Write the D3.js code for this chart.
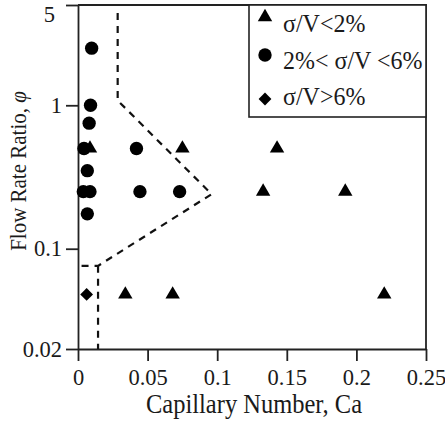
<!DOCTYPE html>
<html>
<head>
<meta charset="utf-8">
<script src="https://cdn.jsdelivr.net/npm/d3@7"></script>
<style>
  body { margin: 0; background: #fff; }
  svg text { font-family: 'Liberation Serif', Tinos, Times, 'Times New Roman', 'DejaVu Serif', serif; fill: #1a1a1a; }
</style>
</head>
<body>
<svg></svg>
<script>
const [svgWidth, svgHeight] = [445, 424];

// data: [Ca, flow rate ratio]
const lowVar = [[0.0086, 0.5], [0.075, 0.5], [0.143, 0.5], [0.133, 0.25], [0.192, 0.25],
  [0.034, 0.048], [0.068, 0.048], [0.22, 0.048]];
const midVar = [[0.0098, 2.5], [0.009, 1.0], [0.008, 0.75], [0.0043, 0.5], [0.042, 0.5],
  [0.0067, 0.35], [0.0038, 0.25], [0.0086, 0.25], [0.0445, 0.25], [0.073, 0.25], [0.0067, 0.175]];
const highVar = [[0.0062, 0.048]];
const boundary = [[0.0285, 4.4], [0.0285, 1.08], [0.096, 0.24], [0.0144, 0.076], [0, 0.076]];
const boundaryLow = [[0.0144, 0.076], [0.0144, 0.02]];
const xTicks = [0, 0.05, 0.1, 0.15, 0.2, 0.25];
const yTicks = [0.02, 0.1, 1, 5];
const legendLabels = ['σ/V<2%', '2%< σ/V <6%', 'σ/V>6%'];

const svg = d3.select('svg')
  .attr('width', svgWidth)
  .attr('height', svgHeight);

const x = d3.scaleLinear().domain([0, 0.25]).range([78, 426]);
const y = d3.scaleLog().domain([0.02, 5]).range([349, 5]);

const ink = '#222';
const serif = "'Liberation Serif', Tinos, Times, 'Times New Roman', 'DejaVu Serif', serif";

// frame (top / right)
svg.append('path')
  .attr('d', `M${x(0)},${y(5)}H${x(0.25)}V${y(0.02)}`)
  .attr('fill', 'none')
  .attr('stroke', ink)
  .attr('stroke-width', 1.8);

const xAxis = svg.append('g')
  .attr('transform', `translate(0, ${y(0.02)})`)
  .call(d3.axisBottom(x).tickValues(xTicks).tickSize(12).tickSizeOuter(0).tickPadding(8)
    .tickFormat(d => String(d)));
const yAxis = svg.append('g')
  .attr('transform', `translate(${x(0)}, 0)`)
  .call(d3.axisLeft(y).tickValues(yTicks).tickSize(12).tickSizeOuter(0).tickPadding(4)
    .tickFormat(d => String(d)));

[xAxis, yAxis].forEach(g => {
  g.attr('font-family', serif).attr('font-size', 22.5);
  g.selectAll('path, line').attr('stroke', ink).attr('stroke-width', 1.8);
  g.selectAll('text').attr('fill', '#1a1a1a');
});
// top label sits below its tick in the original
yAxis.selectAll('.tick')
  .filter(d => d === 5)
  .select('text')
  .attr('dy', '0.32em')
  .attr('y', 9)
  .attr('x', -23);

svg.append('text')
  .attr('transform', `translate(${(x(0) + x(0.25)) / 2 + 2}, 413) scale(1, 1.1)`)
  .attr('text-anchor', 'middle')
  .attr('font-family', serif)
  .attr('font-size', 24.5)
  .text('Capillary Number, Ca');

const yTitle = svg.append('text')
  .attr('transform', 'translate(26, 171) rotate(-90) scale(1, 1.08)')
  .attr('text-anchor', 'middle')
  .attr('font-family', serif)
  .attr('font-size', 21);
yTitle.append('tspan').text('Flow Rate Ratio, ');
yTitle.append('tspan').attr('font-style', 'italic').text('φ');

// boundary dashed lines
const line = d3.line().x(d => x(d[0])).y(d => y(d[1]));
[boundary, boundaryLow].forEach(b => {
  svg.append('path')
    .attr('d', line(b))
    .attr('fill', 'none')
    .attr('stroke', '#111')
    .attr('stroke-width', 2.2)
    .attr('stroke-dasharray', '7,6');
});

// markers
const shapes = [
  d3.symbol().type(d3.symbolTriangle).size(90),
  d3.symbol().type(d3.symbolCircle).size(140),
  d3.symbol().type(d3.symbolSquare).size(82)
];
const rotations = [0, 0, 45];
[lowVar, midVar, highVar].forEach((series, k) => {
  svg.append('g')
    .selectAll('path')
    .data(series)
    .enter()
    .append('path')
    .attr('d', shapes[k])
    .attr('transform', d => `translate(${x(d[0])}, ${y(d[1])}) rotate(${rotations[k]})`)
    .attr('fill', '#000');
});

// legend
const legend = svg.append('g');
legend.append('rect')
  .attr('x', 249)
  .attr('y', y(5))
  .attr('width', x(0.25) - 249)
  .attr('height', 112)
  .attr('fill', '#fff')
  .attr('stroke', ink)
  .attr('stroke-width', 1.6);
const markerY = [17, 55, 99];
const textY = [32, 69, 105];
legendLabels.forEach((lab, k) => {
  legend.append('path')
    .attr('d', shapes[k])
    .attr('transform', `translate(265, ${markerY[k]}) rotate(${rotations[k]})`)
    .attr('fill', '#000');
  legend.append('text')
    .attr('transform', `translate(283, ${textY[k]}) scale(1, 1.08)`)
    .attr('font-family', serif)
    .attr('font-size', 24)
    .text(lab);
});
</script>
</body>
</html>
